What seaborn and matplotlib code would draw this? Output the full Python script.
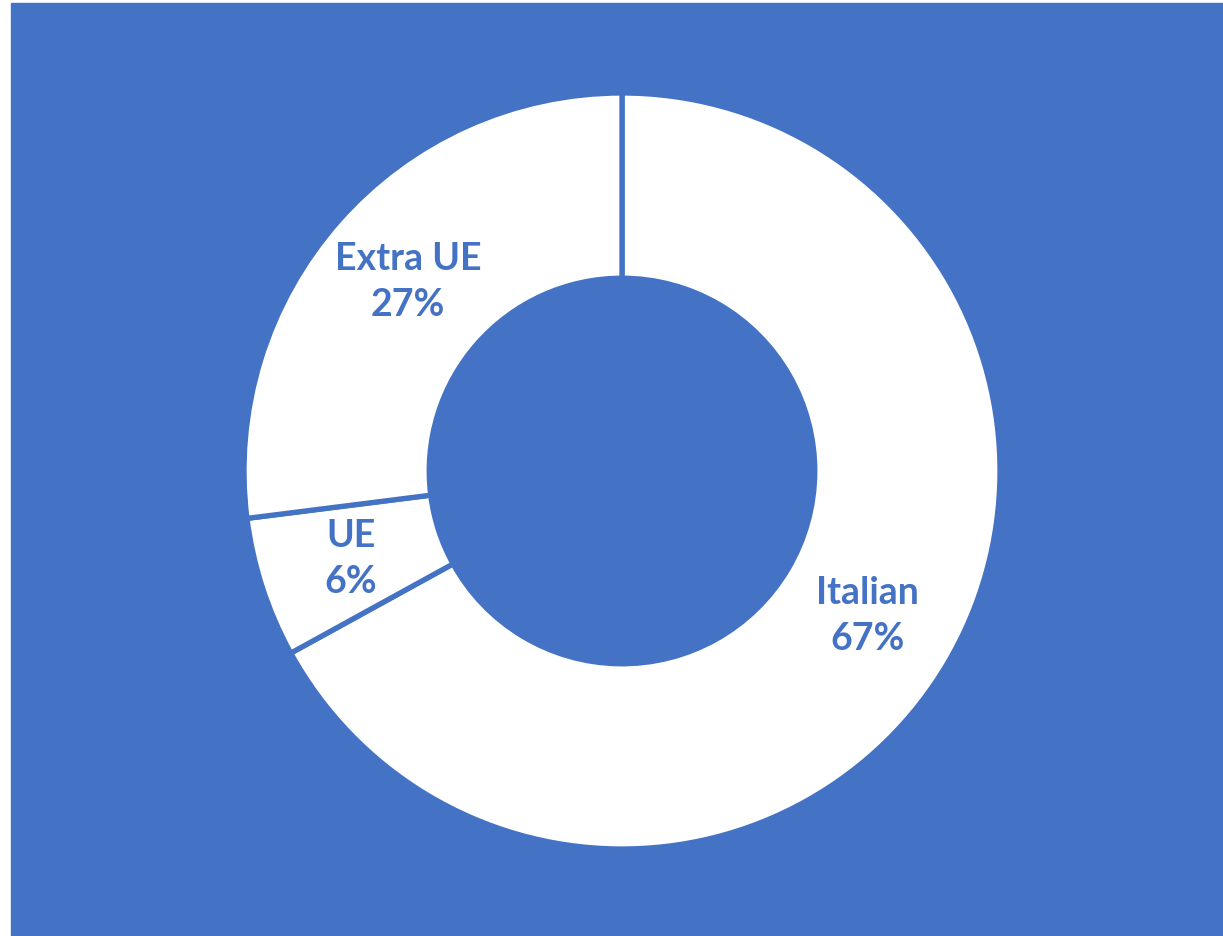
import matplotlib
matplotlib.use("Agg")
import matplotlib.pyplot as plt
import seaborn as sns

# data
categories = ["Italian", "UE", "Extra UE"]
shares = [67, 6, 27]

blue = "#4472C4"

sns.set_theme(style="white")
plt.rcParams["font.family"] = ["Lato", "DejaVu Sans"]

W, H, dpi = 1223, 936, 100
fig = plt.figure(figsize=(W / dpi, H / dpi), dpi=dpi, facecolor="white")

# blue panel starts at x=11px, y=3px (from top)
left, top = 11, 3
ax = fig.add_axes([left / W, 0, (W - left) / W, (H - top) / H])

labels = [f"{c}\n{v}%" for c, v in zip(categories, shares)]
wedges, texts = ax.pie(
    shares,
    labels=labels,
    colors=["white"] * len(shares),
    startangle=90,
    counterclock=False,
    radius=1.0,
    labeldistance=0.755,
    wedgeprops=dict(width=0.49, edgecolor=blue, linewidth=3.8),
    textprops=dict(color=blue, fontsize=27, fontweight="bold"),
)
for t in texts:
    t.set_horizontalalignment("center")
    t.set_verticalalignment("center")
    t.set_linespacing(1.42)

# donut centre at (622, 471) px, outer radius 378 px
cx, cy, r = 622, 471, 378
ax.set_xlim(-(cx - left) / r, (W - cx) / r)
ax.set_ylim(-(H - cy) / r, (cy - top) / r)
ax.set_aspect("auto")
ax.axis("off")
fig.patches.append(plt.Rectangle((left / W, 0), (W - left) / W, (H - top) / H,
                                 transform=fig.transFigure, color=blue, zorder=-1))

fig.savefig("out.png", dpi=dpi, facecolor="white")
